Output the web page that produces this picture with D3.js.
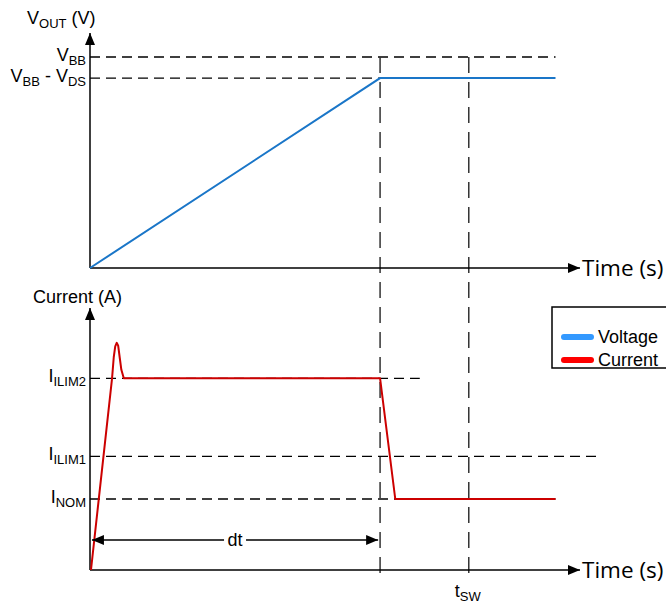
<!DOCTYPE html>
<html>
<head>
<meta charset="utf-8">
<script src="https://d3js.org/d3.v7.min.js"></script>
<style>
  body { margin: 0; background: #fff; }
  text { font-family: "Liberation Sans", Arial, sans-serif; fill: #000; }
</style>
</head>
<body>
<div id="cont"></div>
<script>
// time axis runs 0..100 (arbitrary units)
var voltT = [0, 59.2, 95];
var voltV = [0, 9, 9];

var curT = [0.2, 4.5, 4.85, 5.15, 5.45, 5.75, 6.05, 6.4, 6.9, 59.2, 62.3, 95];
var curI = [0, 2.7, 3.0, 3.15, 3.2, 3.16, 3.0, 2.82, 2.7, 2.7, 1.0, 1.0];

var vTickValues = [10, 9];
var vTickLabels = ["V_{BB}", "V_{BB} - V_{DS}"];
var vTickEnds = [95, 59.2];

var iTickValues = [2.7, 1.6, 1.0];
var iTickLabels = ["I_{ILIM2}", "I_{ILIM1}", "I_{NOM}"];
var iTickEnds = [67.3, 104, 95];

var markerTimes = [59.2, 77.3];
var dtSpan = [0.4, 58.8];

var legendNames = ["Voltage", "Current"];
var legendColors = ["#3399ff", "#ff0000"];

var svg = d3.select("#cont").append("svg")
    .attr("width", 666)
    .attr("height", 606);

var x = d3.scaleLinear().domain([0, 100]).range([90, 580]);
var yV = d3.scaleLinear().domain([0, 10]).range([268, 57]);
var yI = d3.scaleLinear().domain([0, 1]).range([570, 499]);

var FS = 18, SUB = 13;

// arrow markers
var defs = svg.append("defs");
defs.append("marker")
    .attr("id", "arr")
    .attr("viewBox", "0 0 12 10")
    .attr("refX", 12).attr("refY", 5)
    .attr("markerWidth", 12).attr("markerHeight", 10)
    .attr("markerUnits", "userSpaceOnUse")
    .attr("orient", "auto-start-reverse")
    .append("path").attr("d", "M0,0L12,5L0,10Z").attr("fill", "#000");

// write "A_{sub} text" as tspans
function subText(sel, str, size, subSize) {
    var parts = str.split(/(_\{[^}]*\})/).filter(function(p) { return p.length; });
    var shifted = false;
    parts.forEach(function(p) {
        if (p.indexOf("_{") === 0) {
            sel.append("tspan").attr("font-size", subSize).attr("dy", 4).text(p.slice(2, -1));
            shifted = true;
        } else {
            var t = sel.append("tspan").attr("font-size", size).text(p);
            if (shifted) { t.attr("dy", -4); shifted = false; }
        }
    });
}

function dashedH(y, vals, ends) {
    svg.append("g").selectAll("line")
        .data(vals)
        .enter().append("line")
        .attr("x1", x(0)).attr("x2", function(d, i) { return x(ends[i]); })
        .attr("y1", function(d) { return y(d); }).attr("y2", function(d) { return y(d); })
        .attr("stroke", "#000").attr("stroke-width", 1.3)
        .attr("stroke-dasharray", "10,6");
}

dashedH(yV, vTickValues, vTickEnds);
dashedH(yI, iTickValues, iTickEnds);

// vertical markers
svg.append("g").selectAll("line")
    .data(markerTimes)
    .enter().append("line")
    .attr("x1", function(d) { return x(d); }).attr("x2", function(d) { return x(d); })
    .attr("y1", yV(10)).attr("y2", 582)
    .attr("stroke", "#333").attr("stroke-width", 1.5)
    .attr("stroke-dasharray", "16,9");

// y tick labels via axes
function tickAxis(y, vals, labels) {
    var g = svg.append("g")
        .attr("transform", "translate(" + x(0) + ",0)")
        .call(d3.axisLeft(y).tickValues(vals).tickSize(0).tickPadding(4).tickFormat(""));
    g.select(".domain").remove();
    g.selectAll(".tick text").each(function(d, i) {
        var t = d3.select(this).attr("fill", "#000").attr("dy", "0.3em").attr("x", -4);
        t.text(null);
        subText(t, labels[i], FS, SUB);
    });
    g.selectAll(".tick text").attr("font-family", "Liberation Sans, Arial, sans-serif");
}
tickAxis(yV, vTickValues, vTickLabels);
tickAxis(yI, iTickValues, iTickLabels);

// axes lines
function axisLines(y, top) {
    svg.append("line")
        .attr("x1", x(0)).attr("x2", x(0))
        .attr("y1", y.range()[0]).attr("y2", top)
        .attr("stroke", "#000").attr("stroke-width", 1.5)
        .attr("marker-end", "url(#arr)");
    svg.append("line")
        .attr("x1", x(0)).attr("x2", x(100))
        .attr("y1", y.range()[0]).attr("y2", y.range()[0])
        .attr("stroke", "#000").attr("stroke-width", 1.5)
        .attr("marker-end", "url(#arr)");
    svg.append("text")
        .attr("x", x(100) + 2).attr("y", y.range()[0])
        .attr("dy", "0.36em")
        .style("font-family", "'Open Sans', sans-serif")
        .attr("font-size", 22.5)
        .text("Time (s)");
}
axisLines(yV, 33);
axisLines(yI, 308);

var vTitle = svg.append("text").attr("x", 27).attr("y", 24);
subText(vTitle, "V_{OUT} (V)", FS, SUB);
svg.append("text").attr("x", 33).attr("y", 303).attr("font-size", FS).text("Current (A)");

// series
var line = d3.line().x(function(d) { return x(d[0]); });

svg.append("path")
    .datum(d3.zip(voltT, voltV))
    .attr("d", line.y(function(d) { return yV(d[1]); }))
    .attr("fill", "none").attr("stroke", "#1a76c8").attr("stroke-width", 2);

svg.append("path")
    .datum(d3.zip(curT, curI))
    .attr("d", line.y(function(d) { return yI(d[1]); }).curve(d3.curveLinear))
    .attr("fill", "none").attr("stroke", "#cc0000").attr("stroke-width", 2)
    .attr("stroke-linejoin", "round");

// dt span
svg.append("line")
    .attr("x1", x(dtSpan[0])).attr("x2", x(dtSpan[1]))
    .attr("y1", 540).attr("y2", 540)
    .attr("stroke", "#000").attr("stroke-width", 1.3)
    .attr("marker-start", "url(#arr)").attr("marker-end", "url(#arr)");
var dtX = (x(dtSpan[0]) + x(dtSpan[1])) / 2;
svg.append("rect").attr("x", dtX - 11).attr("y", 531).attr("width", 22).attr("height", 18).attr("fill", "#fff");
svg.append("text").attr("x", dtX).attr("y", 540).attr("dy", "0.35em")
    .attr("text-anchor", "middle").attr("font-size", FS).text("dt");

var tsw = svg.append("text").attr("x", x(markerTimes[1]) - 14).attr("y", 597);
subText(tsw, "t_{SW}", FS, SUB);

// legend
var leg = svg.append("g").attr("transform", "translate(552,307)");
leg.append("rect").attr("width", 130).attr("height", 61)
    .attr("fill", "#fff").attr("stroke", "#000").attr("stroke-width", 1.5);
var items = leg.selectAll("g.item").data(legendNames).enter().append("g")
    .attr("transform", function(d, i) { return "translate(0," + (30 + i * 23) + ")"; });
items.append("line").attr("x1", 12).attr("x2", 39).attr("y1", 0).attr("y2", 0)
    .attr("stroke", function(d, i) { return legendColors[i]; })
    .attr("stroke-width", 6).attr("stroke-linecap", "round");
items.append("text").attr("x", 46).attr("dy", "0.35em").attr("font-size", FS)
    .text(function(d) { return d; });
</script>
</body>
</html>
